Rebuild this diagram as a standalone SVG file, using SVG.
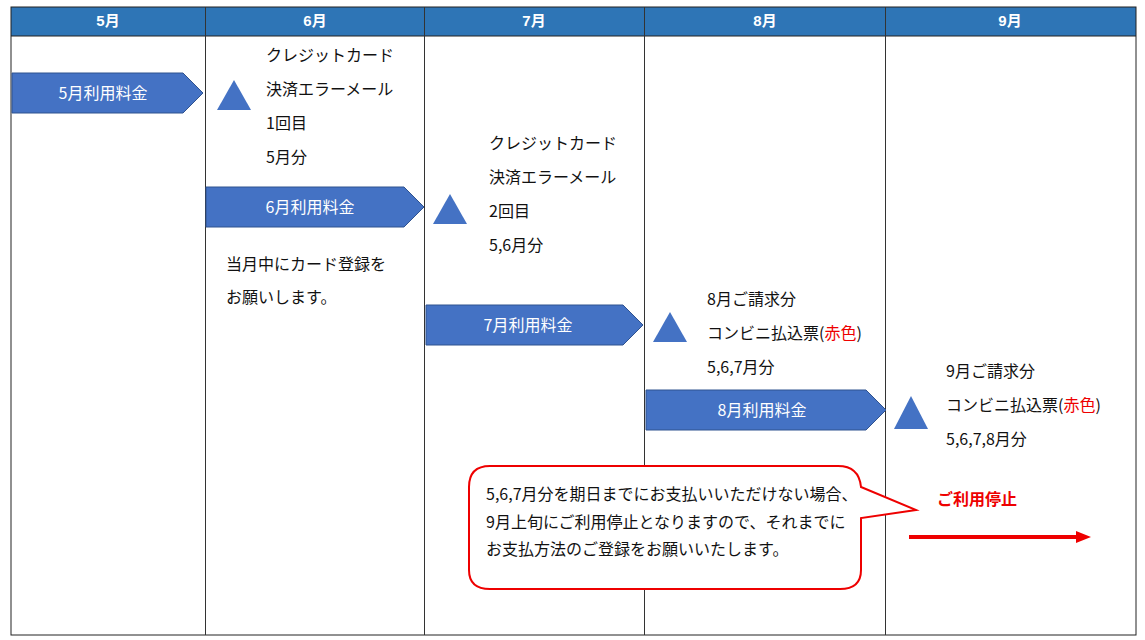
<svg xmlns="http://www.w3.org/2000/svg" width="1145" height="640" viewBox="0 0 1145 640">
<style>
text{font-family:"Noto Sans CJK JP","Liberation Sans",sans-serif;font-size:16px;fill:#111}
.h{fill:#fff;font-weight:bold;font-size:15px;text-anchor:middle;font-family:"Liberation Sans","Noto Sans CJK JP",sans-serif}
.a{fill:#4472c4;stroke:#2f528f;stroke-width:1}
.at{fill:#fff;text-anchor:middle;font-size:16px}
.t{fill:#4472c4}
.r{fill:#e00}
</style>
<rect x="0" y="0" width="1145" height="640" fill="#fff"/>
<g id="table">
<rect x="11" y="7" width="1125" height="29" fill="#2e75b6"/>
<rect x="11" y="7" width="1125" height="628" fill="none" stroke="#222" stroke-width="1"/>
<line x1="11" y1="36" x2="1136" y2="36" stroke="#222"/>
<g stroke="#333" stroke-width="1">
<line x1="205.5" y1="7" x2="205.5" y2="635"/><line x1="424.5" y1="7" x2="424.5" y2="635"/><line x1="644.5" y1="7" x2="644.5" y2="635"/><line x1="885.5" y1="7" x2="885.5" y2="635"/>
</g>
<text class="h" x="108" y="26">5月</text><text class="h" x="315" y="26">6月</text><text class="h" x="534" y="26">7月</text><text class="h" x="765" y="26">8月</text><text class="h" x="1010" y="26">9月</text>
</g>
<g id="fee5"><path class="a" d="M12 73H183L203 93L183 113H12Z"/><text class="at" x="103" y="99">5月利用料金</text></g>
<g id="fee6"><path class="a" d="M206 187H404L424 207L404 227H206Z"/><text class="at" x="310" y="213">6月利用料金</text></g>
<g id="fee7"><path class="a" d="M426 305H623L643 325L623 345H426Z"/><text class="at" x="528" y="331">7月利用料金</text></g>
<g id="fee8"><path class="a" d="M646 390H866L886 410L866 430H646Z"/><text class="at" x="762" y="416">8月利用料金</text></g>
<g id="n1"><path class="t" d="M217 110H251L234 80Z"/>
<text x="266" y="61">クレジットカード</text><text x="266" y="95">決済エラーメール</text><text x="266" y="129">1回目</text><text x="266" y="163">5月分</text></g>
<g id="n6note"><text x="226" y="270">当月中にカード登録を</text><text x="226" y="303">お願いします。</text></g>
<g id="n2"><path class="t" d="M433 224H467L450 194Z"/>
<text x="489" y="149">クレジットカード</text><text x="489" y="183">決済エラーメール</text><text x="489" y="217">2回目</text><text x="489" y="251">5,6月分</text></g>
<g id="n3"><path class="t" d="M653 342H687L670 312Z"/>
<text x="707" y="305">8月ご請求分</text><text x="707" y="339">コンビニ払込票(<tspan class="r">赤色</tspan>)</text><text x="707" y="373">5,6,7月分</text></g>
<g id="n4"><path class="t" d="M894 429H928L911 396Z"/>
<text x="946" y="377">9月ご請求分</text><text x="946" y="411">コンビニ払込票(<tspan class="r">赤色</tspan>)</text><text x="946" y="445">5,6,7,8月分</text></g>
<g id="callout">
<path d="M490 466H838Q859 466 861 487L916 510L861 518V570Q861 589 840 589H490Q469 589 469 570V487Q469 466 490 466Z" fill="#fff" stroke="#e00" stroke-width="2"/>
<text x="486" y="500" font-size="14">5,6,7月分を期日までにお支払いいただけない場合、</text>
<text x="486" y="528" font-size="14">9月上旬にご利用停止となりますので、それまでに</text>
<text x="486" y="555" font-size="14">お支払方法のご登録をお願いいたします。</text>
</g>
<g id="stop"><text x="937" y="505" font-size="19" font-weight="bold" fill="#e00" style="fill:#e00">ご利用停止</text></g>
<g id="connectors">
<line x1="909" y1="537" x2="1078" y2="537" stroke="#e00" stroke-width="4"/>
<path d="M1076 531L1091 537L1076 543Z" fill="#e00"/>
</g>
</svg>
